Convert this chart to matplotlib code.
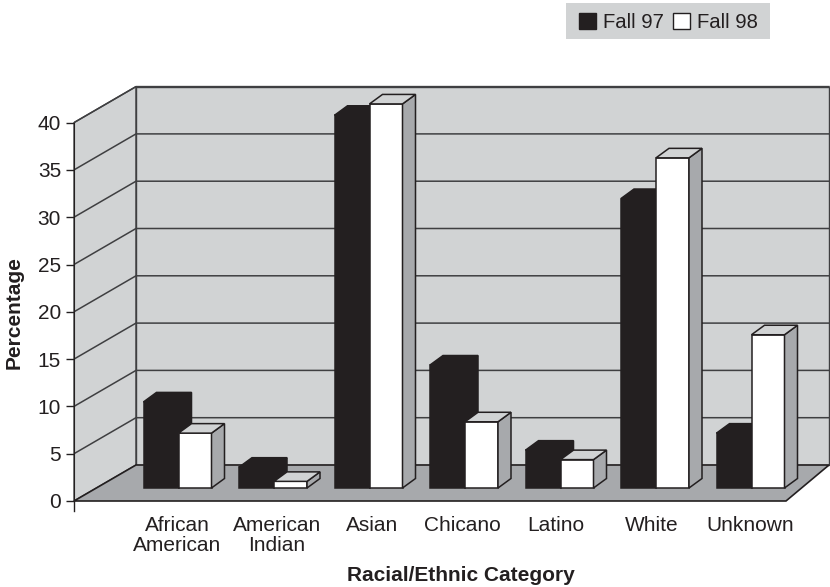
import matplotlib
matplotlib.use("Agg")
import matplotlib.pyplot as plt
from matplotlib.patches import Polygon, Patch, Rectangle

plt.rcParams['font.family'] = ['Liberation Sans', 'DejaVu Sans']

# --- data ---
categories = ["African\nAmerican", "American\nIndian", "Asian", "Chicano", "Latino", "White", "Unknown"]
fall_97 = [9.1, 2.2, 39.4, 13.0, 4.0, 30.6, 5.8]
fall_98 = [5.8, 0.7, 40.6, 7.0, 3.0, 34.9, 16.2]
y_ticks = [0, 5, 10, 15, 20, 25, 30, 35, 40]

# --- colours ---
WALL = "#d1d3d4"
FLOOR = "#a7a9ac"
DARK = "#231f20"
GRID = "#3f3f41"

# --- layout (x axis is in pixels, y axis in percent) ---
W, H = 830, 587
PX = 9.46             # pixels per percentage point
X0 = 74               # front-left corner of the plot box
Y0 = 501              # pixel row of the zero line
DEPTH_X, DEPTH_Y = 62, 36 / PX
RIGHT_FRONT = 786
RIGHT_BACK = 829
TOP = 40
BAR_BASE = 13 / PX    # bars stand a little way back on the floor
BLACK_W, WHITE_W = 35, 33
BAR_DX, BAR_DY = 13, 9.5 / PX
GROUP_START = 178.5
GROUP_STEP = 95.5
LABEL_X = [177, 277, 372, 462, 556, 652, 750]
FS = 15

fig = plt.figure(figsize=(W / 100, H / 100), dpi=100)
ax = fig.add_axes([X0 / W, (H - Y0) / H, (W - X0) / W, Y0 / H])
ax.set_xlim(X0, W)
ax.set_ylim(0, Y0 / PX)
ax.set_facecolor("none")
for side in ["top", "right", "bottom"]:
    ax.spines[side].set_visible(False)
ax.spines["left"].set_bounds(0, TOP)
ax.spines["left"].set_color(DARK)


def add_poly(pts, face, edge=DARK, lw=1.0, z=1):
    ax.add_patch(Polygon(pts, closed=True, facecolor=face, edgecolor=edge,
                         linewidth=lw, zorder=z, clip_on=False, joinstyle="miter"))


# walls and floor
back_x = X0 + DEPTH_X
add_poly([(X0, 0), (back_x, DEPTH_Y), (back_x, TOP + DEPTH_Y), (X0, TOP)], WALL, GRID)
add_poly([(back_x, DEPTH_Y), (RIGHT_BACK, DEPTH_Y), (RIGHT_BACK, TOP + DEPTH_Y), (back_x, TOP + DEPTH_Y)], WALL, GRID)
add_poly([(X0, 0), (RIGHT_FRONT, 0), (RIGHT_BACK, DEPTH_Y), (back_x, DEPTH_Y)], FLOOR, DARK, 1.2, z=2)

# gridlines run along the side wall and across the back wall
for t in y_ticks[1:]:
    ax.plot([X0, back_x, RIGHT_BACK], [t, t + DEPTH_Y, t + DEPTH_Y], color=GRID, lw=1.1, zorder=1.5)

# y axis line below zero
ax.plot([X0, X0], [0, -10 / PX], color=DARK, lw=1.0, clip_on=False, zorder=3)

ax.set_yticks(y_ticks)
ax.tick_params(axis="y", length=5.8, width=1, color=DARK, labelsize=FS, labelcolor=DARK, pad=3.5)
ax.set_xticks([])


def draw_bar(x_left, width, value, face, z):
    top = BAR_BASE + value
    right = x_left + width
    ax.bar(x_left, value, width, bottom=BAR_BASE, align="edge", color=face,
           edgecolor=DARK, linewidth=1.1, zorder=z, clip_on=False)
    side_col = DARK if face == DARK else FLOOR
    top_col = DARK if face == DARK else WALL
    add_poly([(right, BAR_BASE), (right + BAR_DX, BAR_BASE + BAR_DY),
              (right + BAR_DX, top + BAR_DY), (right, top)], side_col, DARK, 1.1, z)
    add_poly([(x_left, top), (right, top), (right + BAR_DX, top + BAR_DY),
              (x_left + BAR_DX, top + BAR_DY)], top_col, DARK, 1.1, z)


for i, (a, b) in enumerate(zip(fall_97, fall_98)):
    centre = GROUP_START + GROUP_STEP * i
    draw_bar(centre - BLACK_W, BLACK_W, a, DARK, 3 + i * 0.1)
    draw_bar(centre, WHITE_W, b, "white", 3.05 + i * 0.1)
    ax.text(LABEL_X[i], -1.55, categories[i], ha="center", va="top", fontsize=FS,
            color=DARK, linespacing=1.08, clip_on=False)

fig.text(461 / W, 1 - 581 / H, "Racial/Ethnic Category", ha="center", va="baseline",
         fontsize=FS, fontweight="bold", color=DARK)
fig.text(14 / W, 1 - 313 / H, "Percentage", ha="center", va="center", rotation=90,
         fontsize=FS, fontweight="bold", color=DARK)

# grey legend band with the swatches laid over it
fig.add_artist(Rectangle((566 / W, 1 - 39 / H), 204 / W, 36 / H, transform=fig.transFigure,
                         facecolor=WALL, edgecolor="none"))
handles = [Patch(facecolor=DARK, edgecolor=DARK, label="Fall 97"),
           Patch(facecolor="white", edgecolor=DARK, label="Fall 98")]
fig.legend(handles=handles, ncols=2, loc="upper left",
           bbox_to_anchor=(579 / W, 1 - 12.5 / H), borderaxespad=0, frameon=False,
           fontsize=14.6, handlelength=0.84, handleheight=0.84, handletextpad=0.35,
           columnspacing=0.46, borderpad=0, labelcolor=DARK)

fig.savefig("out.png", dpi=100)
